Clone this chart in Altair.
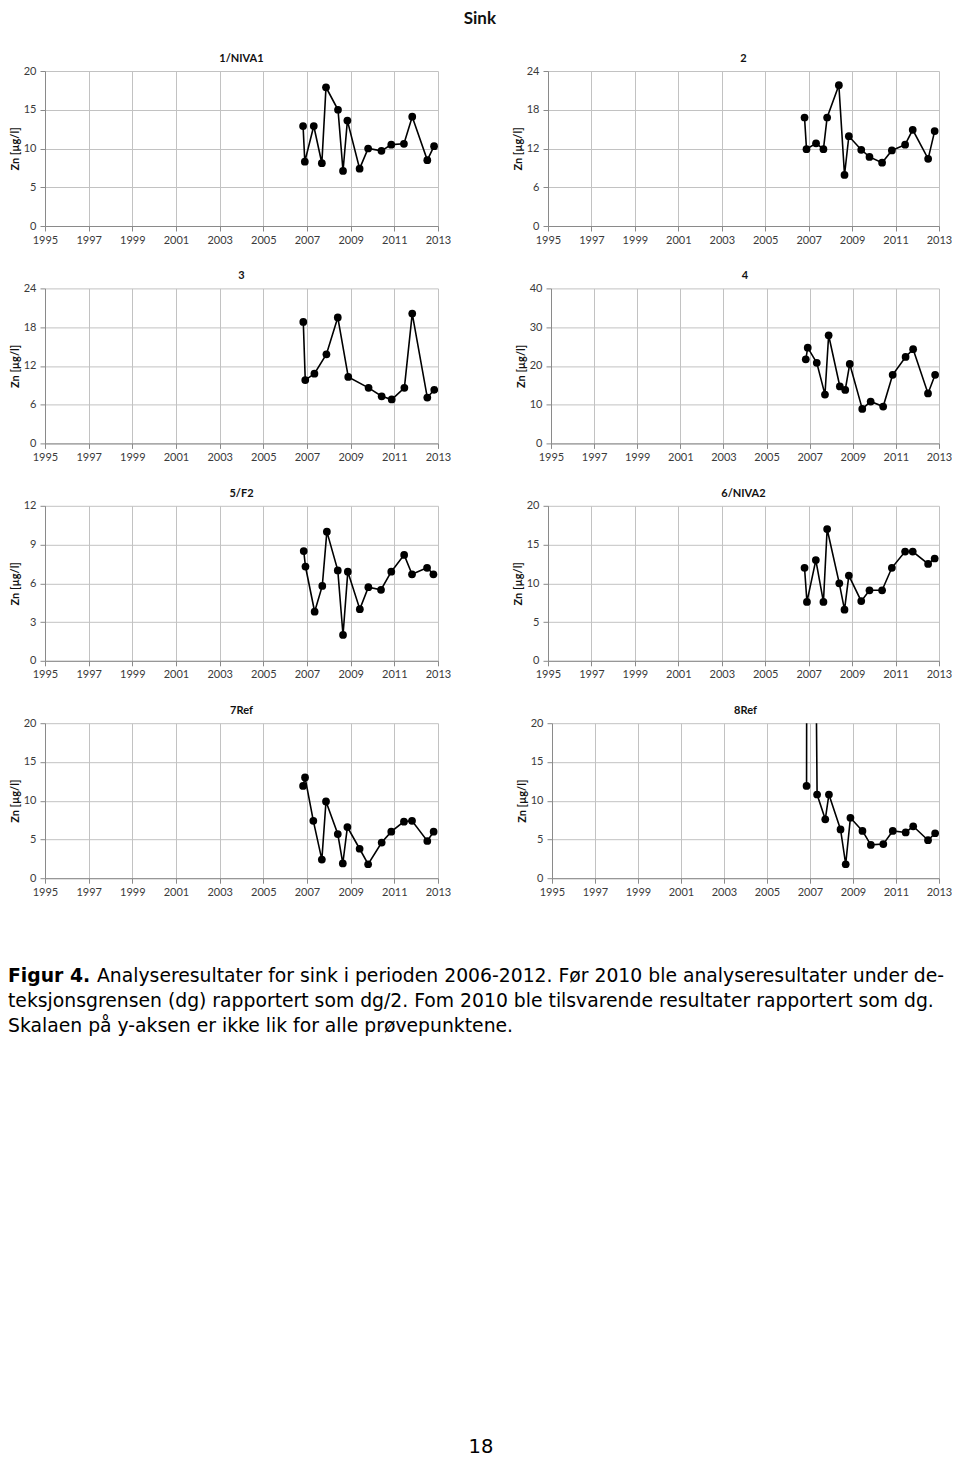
import altair as alt
import pandas as pd

# ---------------- data ----------------
station_names = ["1/NIVA1", "2", "3", "4", "5/F2", "6/NIVA2", "7Ref", "8Ref"]

t_1 = [2006.82, 2006.90, 2007.31, 2007.68, 2007.87, 2008.42, 2008.65, 2008.85, 2009.41, 2009.80, 2010.41, 2010.86, 2011.44, 2011.82, 2012.51, 2012.82]
zn_1 = [12.9, 8.3, 12.9, 8.1, 17.9, 15.0, 7.1, 13.6, 7.4, 10.0, 9.7, 10.5, 10.6, 14.1, 8.5, 10.3]

t_2 = [2006.81, 2006.90, 2007.34, 2007.68, 2007.85, 2008.39, 2008.65, 2008.85, 2009.42, 2009.80, 2010.38, 2010.83, 2011.44, 2011.79, 2012.50, 2012.80]
zn_2 = [16.8, 11.9, 12.8, 11.9, 16.8, 21.8, 7.9, 13.9, 11.8, 10.7, 9.8, 11.7, 12.6, 14.9, 10.4, 14.7]

t_3 = [2006.83, 2006.92, 2007.34, 2007.89, 2008.41, 2008.89, 2009.82, 2010.42, 2010.88, 2011.46, 2011.82, 2012.51, 2012.83]
zn_3 = [18.8, 9.8, 10.8, 13.8, 19.5, 10.3, 8.6, 7.3, 6.8, 8.6, 20.1, 7.1, 8.3]

t_4 = [2006.82, 2006.91, 2007.33, 2007.71, 2007.88, 2008.40, 2008.65, 2008.86, 2009.44, 2009.83, 2010.41, 2010.85, 2011.45, 2011.80, 2012.49, 2012.82]
zn_4 = [21.7, 24.7, 20.8, 12.6, 27.9, 14.7, 13.8, 20.5, 8.9, 10.8, 9.5, 17.7, 22.3, 24.3, 12.9, 17.7]

t_5 = [2006.85, 2006.93, 2007.35, 2007.70, 2007.91, 2008.41, 2008.65, 2008.87, 2009.42, 2009.81, 2010.39, 2010.86, 2011.45, 2011.81, 2012.50, 2012.79]
zn_5 = [8.5, 7.3, 3.8, 5.8, 10.0, 7.0, 2.0, 6.9, 4.0, 5.7, 5.5, 6.9, 8.2, 6.7, 7.2, 6.7]

t_6 = [2006.81, 2006.92, 2007.33, 2007.68, 2007.85, 2008.41, 2008.65, 2008.85, 2009.42, 2009.80, 2010.38, 2010.83, 2011.44, 2011.79, 2012.50, 2012.80]
zn_6 = [12.0, 7.6, 13.0, 7.6, 17.0, 10.0, 6.6, 11.0, 7.7, 9.1, 9.1, 12.0, 14.1, 14.1, 12.5, 13.2]

t_7 = [2006.82, 2006.91, 2007.29, 2007.68, 2007.87, 2008.41, 2008.64, 2008.85, 2009.41, 2009.80, 2010.42, 2010.86, 2011.44, 2011.81, 2012.51, 2012.80]
zn_7 = [11.9, 13.0, 7.4, 2.4, 9.9, 5.7, 1.9, 6.6, 3.8, 1.8, 4.6, 6.0, 7.3, 7.4, 4.8, 6.0]

# second value is far above the axis maximum (only the steep line segments show)
t_8 = [2006.84, 2006.90, 2007.33, 2007.71, 2007.88, 2008.42, 2008.66, 2008.88, 2009.44, 2009.83, 2010.41, 2010.85, 2011.45, 2011.80, 2012.49, 2012.82]
zn_8 = [11.9, 150.0, 10.8, 7.6, 10.8, 6.3, 1.8, 7.8, 6.1, 4.3, 4.4, 6.1, 5.9, 6.7, 4.9, 5.8]

y_max = [20, 24, 24, 40, 12, 20, 20, 20]
y_step = [5, 6, 6, 10, 3, 5, 5, 5]
x_ticks = list(range(1995, 2014, 2))

main_title = "Sink"
y_title = "Zn [µg/l]"
cap_bold = "Figur 4."
cap_line1 = "Analyseresultater for sink i perioden 2006-2012. Før 2010 ble analyseresultater under de-"
cap_line2 = "teksjonsgrensen (dg) rapportert som dg/2. Fom 2010 ble tilsvarende resultater rapportert som dg."
cap_line3 = "Skalaen på y-aksen er ikke lik for alle prøvepunktene."
page_no = "18"

series_t = [t_1, t_2, t_3, t_4, t_5, t_6, t_7, t_8]
series_zn = [zn_1, zn_2, zn_3, zn_4, zn_5, zn_6, zn_7, zn_8]

FONT = "Lato"
PANEL_H = 155
LEFT_W = 393
right_starts = [548, 551, 548, 552]


def panel(i, width):
    df = pd.DataFrame({"year": series_t[i], "zn": series_zn[i]})
    x = alt.X(
        "year:Q",
        scale=alt.Scale(domain=[1995, 2013], nice=False, zero=False),
        axis=alt.Axis(values=x_ticks, format="d", title=None, labelFlush=False,
                      labelOverlap=False, labelPadding=3),
    )
    y = alt.Y(
        "zn:Q",
        scale=alt.Scale(domain=[0, y_max[i]], nice=False),
        axis=alt.Axis(values=list(range(0, y_max[i] + 1, y_step[i])), title=y_title,
                      labelFlush=False, labelOverlap=False, labelPadding=4, titlePadding=3),
    )
    base = alt.Chart(df).encode(x=x, y=y)
    line = base.mark_line(color="black", strokeWidth=1.6, clip=True)
    pts = base.mark_circle(color="black", size=60, opacity=1, clip=True)
    return alt.layer(line, pts).properties(
        width=width,
        height=PANEL_H,
        title=alt.TitleParams(station_names[i], font=FONT, fontSize=11, fontWeight="bold",
                              anchor="middle", offset=1, color="#111111"),
    )


rows = []
for r in range(4):
    rs = right_starts[r]
    left = panel(2 * r, LEFT_W)
    right = panel(2 * r + 1, 939 - rs)
    rows.append(alt.hconcat(left, right, spacing=rs - 45 - LEFT_W, bounds="flush"))

# caption block (positions relative to the caption view, whose origin is at page x=45)
cap_src = pd.DataFrame({"k": [0]})


def txt(s, x, y, weight="normal", size=18.8, align="left", baseline="alphabetic"):
    return alt.Chart(cap_src).mark_text(
        text=s, font="DejaVu Sans", fontSize=size, fontWeight=weight,
        align=align, baseline=baseline, color="black",
    ).encode(x=alt.value(x), y=alt.value(y))


caption = alt.layer(
    txt(cap_bold, -37, 41, weight="bold"),
    txt(cap_line1, 52, 41),
    txt(cap_line2, -37, 66),
    txt(cap_line3, -37, 91),
    txt(page_no, 436, 506, size=19.5, align="center", baseline="middle"),
).properties(width=894, height=500)

chart = alt.vconcat(
    *rows, caption, spacing=217.4, bounds="flush",
    title=alt.TitleParams(main_title, font=FONT, fontSize=17, fontWeight="bold",
                          anchor="middle", frame="bounds", offset=25, color="#111111"),
).properties(padding={"top": 2, "left": 0, "right": 0, "bottom": 0},
             background="white").configure_view(stroke=None).configure_axis(
    domainColor="#8a8a8a", tickColor="#8a8a8a", gridColor="#c2c2c2", gridWidth=1,
    labelFont=FONT, labelFontSize=11, labelColor="#3a3a3a",
    titleFont=FONT, titleFontSize=11, titleFontWeight="bold", titleColor="#111111",
    tickSize=5,
)

chart.save("out.html", embed_options={"renderer": "svg", "actions": False})
